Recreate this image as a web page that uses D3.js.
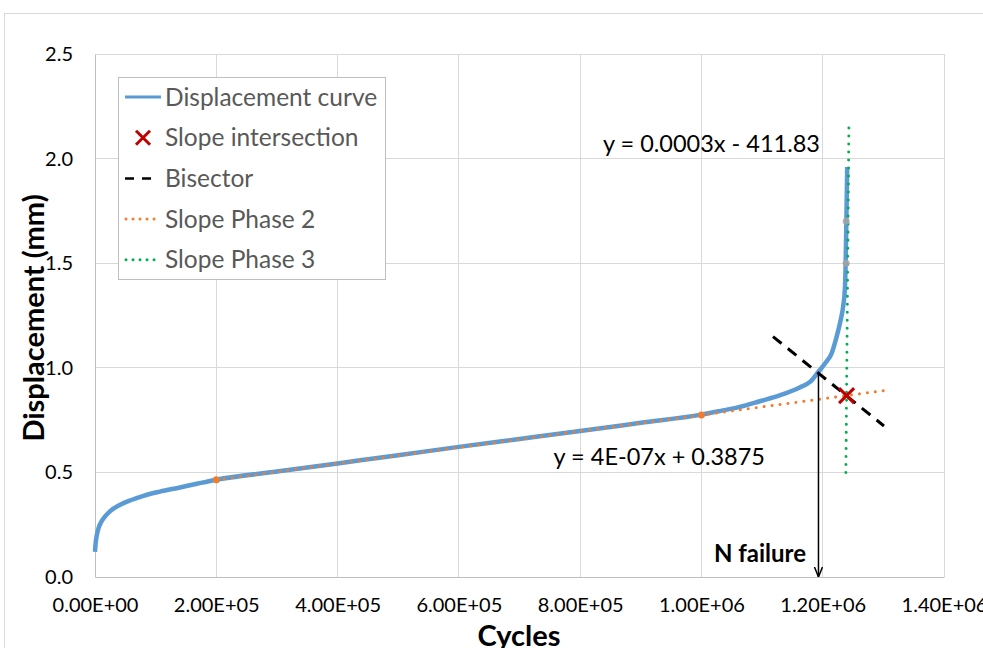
<!DOCTYPE html>
<html>
<head>
<meta charset="utf-8">
<script src="https://cdn.jsdelivr.net/npm/d3@7"></script>
<style>
  html, body { margin: 0; padding: 0; background: #fff; }
  svg { display: block; }
  text { font-family: Lato, "Open Sans", "Liberation Sans", sans-serif; }
</style>
</head>
<body>
<svg id="chart" width="983" height="648"></svg>
<script>
// ---- data ----
const curveCycles = [0, 1000, 3000, 6000, 10000, 16000, 25000, 40000, 60000, 80000, 107000, 140000, 170000,
  200000, 300000, 400000, 500000, 600000, 700000, 800000, 900000, 1000000, 1030000, 1063000,
  1096000, 1130000, 1162000, 1180000, 1193000, 1205000, 1214700, 1223000, 1229000, 1234000,
  1236600, 1237600, 1239000, 1240400];
const curveDisp = [0.12, 0.16, 0.2, 0.235, 0.262, 0.287, 0.315, 0.343, 0.368, 0.388, 0.408, 0.428, 0.447,
  0.465, 0.504, 0.543, 0.582, 0.622, 0.66, 0.698, 0.737, 0.776, 0.793, 0.813,
  0.84, 0.869, 0.906, 0.935, 0.981, 1.025, 1.069, 1.149, 1.22, 1.30,
  1.38, 1.47, 1.70, 1.96];

// linear fits: y = slope * x + intercept
const phase2Fit = [3.87e-7, 0.3875];
const phase2Range = [200000, 1300000];
const phase2PointsX = [200000, 1000000];
const phase3Fit = [0.000333, -411.83];
const phase3Range = [1238228, 1243228];
const phase3PointsX = [1238700, 1238700];
const phase3PointsY = [1.5, 1.7];

const bisectorCycles = [1118000, 1301000];
const bisectorDisp = [1.149, 0.722];

const nFailureCycles = 1193000;
const nFailureDisp = 0.981;

const xTicks = [0, 200000, 400000, 600000, 800000, 1000000, 1200000, 1400000];
const yTicks = [0, 0.5, 1.0, 1.5, 2.0, 2.5];
const legendLabels = ["Displacement curve", "Slope intersection", "Bisector", "Slope Phase 2", "Slope Phase 3"];

const COL = { curve: "#5B9BD5", x: "#C00000", bis: "#000000", p2: "#ED7D31", p3: "#00B050", grid: "#D9D9D9", axis: "#BFBFBF", text: "#595959", marker3: "#A5A5A5" };

// ---- layout ----
const svg = d3.select("#chart");
const x = d3.scaleLinear().domain([0, 1400000]).range([95, 944]);
const y = d3.scaleLinear().domain([0, 2.5]).range([577, 54]);

// chart frame
svg.append("rect").attr("x", 4.5).attr("y", 13.5).attr("width", 1000).attr("height", 700)
  .attr("fill", "none").attr("stroke", COL.grid);

// gridlines
svg.append("g").selectAll("line").data(yTicks.filter(d => d > 0)).join("line")
  .attr("x1", x(0)).attr("x2", x(1400000)).attr("y1", d => y(d)).attr("y2", d => y(d))
  .attr("stroke", COL.grid).attr("stroke-width", 1).attr("shape-rendering", "crispEdges");
svg.append("g").selectAll("line").data(xTicks.filter(d => d > 0)).join("line")
  .attr("x1", d => x(d)).attr("x2", d => x(d)).attr("y1", y(0)).attr("y2", y(2.5))
  .attr("stroke", COL.grid).attr("stroke-width", 1).attr("shape-rendering", "crispEdges");

// axes
const fmtX = v => v === 0 ? "0.00E+00" : (() => {
  const e = Math.floor(Math.log10(v));
  const m = v / Math.pow(10, e);
  return m.toFixed(2) + "E+" + String(e).padStart(2, "0");
})();
const xAxis = d3.axisBottom(x).tickValues(xTicks).tickFormat(fmtX).tickSize(0).tickPadding(21);
const gx = svg.append("g").attr("transform", `translate(0,${y(0)})`).call(xAxis);
gx.select(".domain").attr("stroke", COL.axis);
gx.selectAll("text").attr("font-size", 20).attr("fill", "#000");

const yAxis = d3.axisLeft(y).tickValues(yTicks).tickFormat(d3.format(".1f")).tickSize(0).tickPadding(22);
const gy = svg.append("g").attr("transform", `translate(${x(0)},0)`).call(yAxis);
gy.select(".domain").attr("stroke", COL.axis);
gy.selectAll("text").attr("font-size", 20).attr("fill", "#000");

// axis titles
svg.append("text").attr("x", 519).attr("y", 646).attr("text-anchor", "middle")
  .attr("font-size", 29).attr("font-weight", "bold").text("Cycles");
svg.append("text").attr("transform", "translate(44,318) rotate(-90)").attr("text-anchor", "middle")
  .attr("font-size", 29).attr("font-weight", "bold").text("Displacement (mm)");

// displacement curve
const curveData = curveCycles.map((c, i) => [c, curveDisp[i]]);
svg.append("path").datum(curveData)
  .attr("d", d3.line().x(d => x(d[0])).y(d => y(d[1])).curve(d3.curveMonotoneX))
  .attr("fill", "none").attr("stroke", COL.curve).attr("stroke-width", 4.5).attr("stroke-linejoin", "round");

// phase 2 trendline and its points
const fit = (f, c) => f[0] * c + f[1];
svg.append("line")
  .attr("x1", x(phase2Range[0])).attr("y1", y(fit(phase2Fit, phase2Range[0])))
  .attr("x2", x(phase2Range[1])).attr("y2", y(fit(phase2Fit, phase2Range[1])))
  .attr("stroke", COL.p2).attr("stroke-width", 3).attr("stroke-linecap", "round")
  .attr("stroke-dasharray", "0.01 8");
svg.append("g").selectAll("circle").data(phase2PointsX).join("circle")
  .attr("cx", d => x(d)).attr("cy", d => y(fit(phase2Fit, d))).attr("r", 3.5).attr("fill", COL.p2);

// phase 3 trendline and its points
svg.append("line")
  .attr("x1", x(phase3Range[0])).attr("y1", y(fit(phase3Fit, phase3Range[0])))
  .attr("x2", x(phase3Range[1])).attr("y2", y(fit(phase3Fit, phase3Range[1])))
  .attr("stroke", COL.p3).attr("stroke-width", 3).attr("stroke-linecap", "round")
  .attr("stroke-dasharray", "0.01 8");
svg.append("g").selectAll("circle").data(phase3PointsX).join("circle")
  .attr("cx", d => x(d)).attr("cy", (d, i) => y(phase3PointsY[i])).attr("r", 3.5)
  .attr("fill", COL.marker3).attr("opacity", 0.85);

// bisector
svg.append("line")
  .attr("x1", x(bisectorCycles[0])).attr("y1", y(bisectorDisp[0]))
  .attr("x2", x(bisectorCycles[1])).attr("y2", y(bisectorDisp[1]))
  .attr("stroke", COL.bis).attr("stroke-width", 3).attr("stroke-dasharray", "11 8");

// slope intersection
const ix = (phase3Fit[1] - phase2Fit[1]) / (phase2Fit[0] - phase3Fit[0]);
const iy = fit(phase2Fit, ix);
function cross(g, cx, cy, s) {
  g.append("path").attr("d", `M${cx - s},${cy - s}L${cx + s},${cy + s}M${cx - s},${cy + s}L${cx + s},${cy - s}`)
    .attr("stroke", COL.x).attr("stroke-width", 3).attr("fill", "none");
}
cross(svg, x(ix), y(iy), 7.5);

// N failure arrow
svg.append("defs").append("marker").attr("id", "arrow").attr("viewBox", "0 0 10 10")
  .attr("refX", 10).attr("refY", 5).attr("markerWidth", 10).attr("markerHeight", 10)
  .attr("markerUnits", "userSpaceOnUse").attr("orient", "auto")
  .append("path").attr("d", "M0,1L10,5L0,9").attr("fill", "none").attr("stroke", "#000").attr("stroke-width", 1.5);
svg.append("line").attr("x1", x(nFailureCycles)).attr("x2", x(nFailureCycles))
  .attr("y1", y(nFailureDisp)).attr("y2", y(0))
  .attr("stroke", "#000").attr("stroke-width", 1.5).attr("marker-end", "url(#arrow)");
svg.append("text").attr("x", 806).attr("y", 562).attr("text-anchor", "end")
  .attr("font-size", 24).attr("font-weight", "bold").text("N failure");

// trendline equations
const sciE = v => {
  const e = Math.floor(Math.log10(Math.abs(v)));
  const m = Math.round(v / Math.pow(10, e));
  return m + "E" + (e < 0 ? "-" : "+") + String(Math.abs(e)).padStart(2, "0");
};
const eqPart = b => (b < 0 ? " - " : " + ") + Math.abs(b);
svg.append("text").attr("x", 820).attr("y", 152).attr("text-anchor", "end").attr("font-size", 23.5)
  .text("y = " + phase3Fit[0].toFixed(4) + "x" + eqPart(phase3Fit[1]));
svg.append("text").attr("x", 765).attr("y", 465).attr("text-anchor", "end").attr("font-size", 23.5)
  .text("y = " + sciE(phase2Fit[0]) + "x" + eqPart(phase2Fit[1]));

// legend
const lg = svg.append("g");
lg.append("rect").attr("x", 118.5).attr("y", 77.5).attr("width", 267).attr("height", 202)
  .attr("fill", "#fff").attr("stroke", COL.axis);
const rowY = i => 97 + i * 40.7;
lg.selectAll("text").data(legendLabels).join("text")
  .attr("x", 165).attr("y", (d, i) => rowY(i)).attr("dy", "0.35em")
  .attr("font-size", 24.5).attr("fill", COL.text).text(d => d);
lg.append("line").attr("x1", 125).attr("x2", 161).attr("y1", rowY(0)).attr("y2", rowY(0))
  .attr("stroke", COL.curve).attr("stroke-width", 3);
cross(lg, 143, rowY(1), 7);
lg.append("line").attr("x1", 125).attr("x2", 153).attr("y1", rowY(2)).attr("y2", rowY(2))
  .attr("stroke", COL.bis).attr("stroke-width", 2.5).attr("stroke-dasharray", "9 8");
lg.append("line").attr("x1", 126).attr("x2", 160).attr("y1", rowY(3)).attr("y2", rowY(3))
  .attr("stroke", COL.p2).attr("stroke-width", 3).attr("stroke-linecap", "round").attr("stroke-dasharray", "0.01 7");
lg.append("line").attr("x1", 126).attr("x2", 160).attr("y1", rowY(4)).attr("y2", rowY(4))
  .attr("stroke", COL.p3).attr("stroke-width", 3).attr("stroke-linecap", "round").attr("stroke-dasharray", "0.01 7");
</script>
</body>
</html>
